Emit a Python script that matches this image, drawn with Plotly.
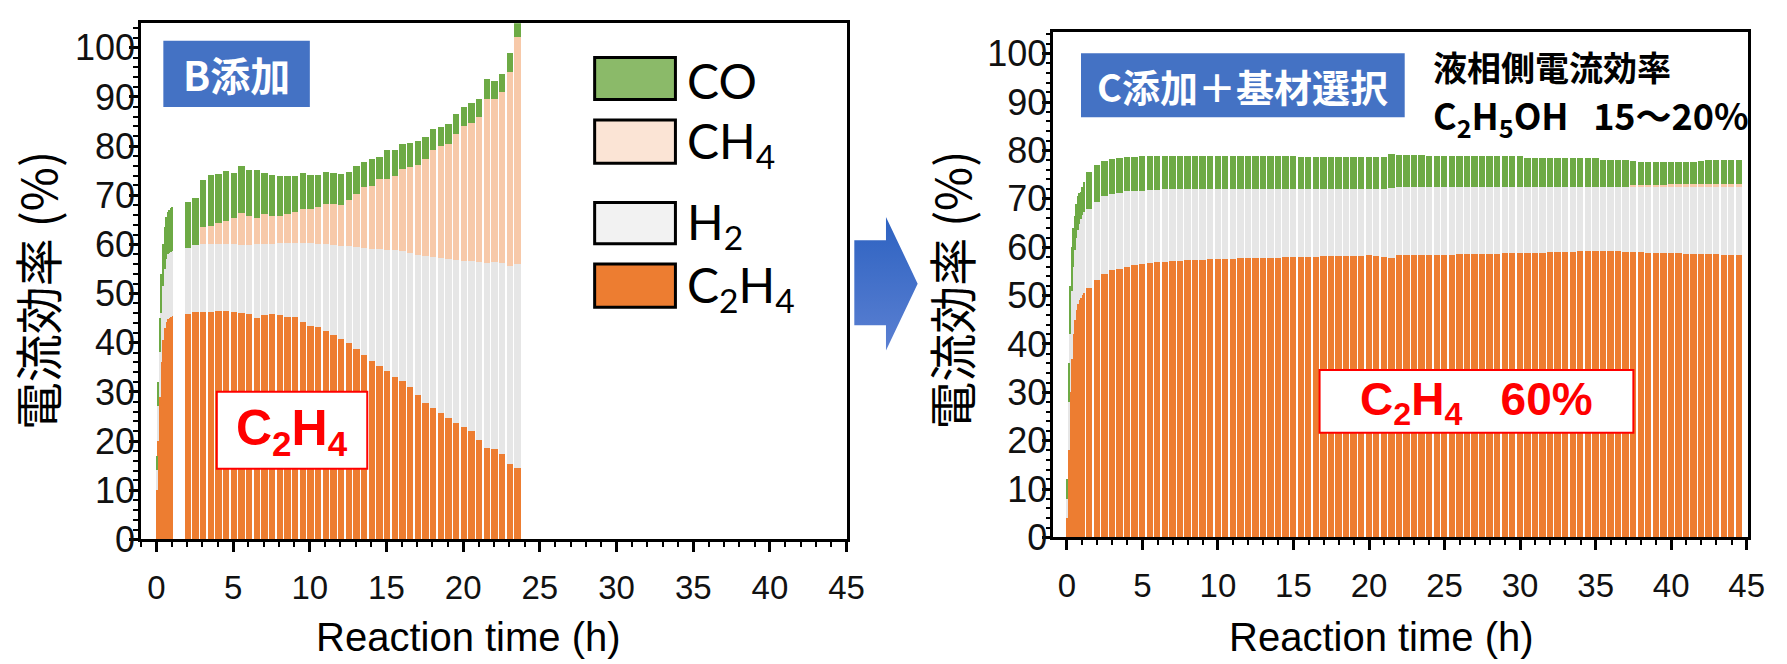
import plotly.graph_objects as go

W, H = 1787, 664

# ---------------- data: B添加 run ----------------
b_ramp_time = [0.05, 0.15, 0.25, 0.35, 0.45, 0.55, 0.65, 0.75, 0.85, 0.95, 1.05]
b_ramp_c2h4 = [10.0, 20.0, 29.0, 36.0, 40.5, 43.0, 44.2, 44.8, 45.0, 45.2, 45.3]
b_ramp_h2 = [4.0, 7.0, 9.0, 10.0, 11.0, 12.0, 12.8, 13.2, 13.3, 13.3, 13.3]
b_ramp_ch4 = [0.0, 0.0, 0.0, 0.0, 0.0, 0.0, 0.0, 0.0, 0.0, 0.0, 0.0]
b_ramp_co = [3.0, 5.0, 7.0, 8.0, 8.5, 8.5, 8.5, 8.5, 8.7, 8.8, 8.9]

b_time = [2.05, 2.55, 3.05, 3.55, 4.05, 4.55, 5.05, 5.55, 6.05, 6.55,
          7.05, 7.55, 8.05, 8.55, 9.05, 9.55, 10.05, 10.55, 11.05, 11.55,
          12.05, 12.55, 13.05, 13.55, 14.05, 14.55, 15.05, 15.55, 16.05, 16.55,
          17.05, 17.55, 18.05, 18.55, 19.05, 19.55, 20.05, 20.55, 21.05, 21.55,
          22.05, 22.55, 23.05, 23.55]
b_c2h4 = [45.8, 46.2, 46.3, 46.3, 46.4, 46.4, 46.2, 46.1, 45.8, 44.9,
          45.6, 45.8, 45.5, 45.2, 45.1, 44.1, 43.3, 43.1, 42.3, 41.5,
          40.7, 39.9, 38.7, 37.5, 36.3, 35.3, 34.2, 33.0, 32.1, 30.9,
          29.3, 27.7, 26.7, 25.7, 24.7, 23.7, 22.9, 21.9, 20.2, 18.5,
          18.3, 17.3, 15.2, 14.4]
b_h2 = [13.5, 13.6, 13.7, 13.8, 13.7, 13.7, 13.8, 13.8, 14.0, 15.1,
        14.5, 14.3, 14.7, 15.1, 15.2, 16.1, 16.9, 17.0, 17.7, 18.4,
        19.0, 19.7, 20.7, 21.8, 22.8, 23.7, 24.7, 25.8, 26.5, 27.4,
        28.6, 29.9, 30.6, 31.4, 32.2, 33.0, 33.7, 34.6, 36.1, 37.6,
        38.1, 38.8, 40.4, 41.6]
b_ch4 = [0.0, 0.0, 3.5, 3.7, 4.2, 4.6, 5.3, 6.4, 6.0, 5.3,
         6.1, 5.7, 5.5, 5.9, 6.2, 6.9, 6.9, 7.4, 8.1, 8.3,
         8.3, 9.3, 10.9, 12.3, 12.7, 14.2, 14.4, 15.1, 16.6, 17.4,
         18.2, 19.8, 21.9, 22.9, 23.4, 25.8, 27.4, 28.1, 29.5, 33.4,
         33.1, 34.9, 39.4, 46.1]
b_co = [9.3, 9.5, 9.5, 10.2, 10.0, 10.2, 9.1, 9.6, 9.2, 9.7,
        8.2, 8.2, 8.1, 7.7, 7.3, 7.3, 7.0, 6.6, 6.6, 6.3,
        6.2, 5.7, 5.6, 5.2, 5.5, 4.6, 5.8, 5.3, 5.1, 4.8,
        4.8, 4.4, 4.2, 3.8, 4.1, 4.0, 4.0, 4.2, 3.7, 4.2,
        3.8, 3.7, 3.9, 3.9]

# ---------------- data: C添加+基材選択 run ----------------
c_ramp_time = [0.05, 0.15, 0.25, 0.35, 0.45, 0.55, 0.65, 0.75, 0.85, 0.95, 1.05, 1.15]
c_ramp_c2h4 = [4.0, 18.0, 30.0, 37.0, 42.0, 45.0, 47.0, 48.2, 49.0, 49.6, 50.2, 50.6]
c_ramp_h2 = [4.0, 10.0, 12.0, 14.0, 14.0, 14.5, 15.0, 15.3, 15.8, 16.2, 16.4, 16.6]
c_ramp_ch4 = [0.0, 0.0, 0.0, 0.0, 0.0, 0.0, 0.0, 0.0, 0.0, 0.0, 0.0, 0.0]
c_ramp_co = [4.0, 8.0, 10.0, 9.0, 8.0, 7.0, 7.0, 7.0, 6.4, 5.7, 5.9, 6.3]

c_time = [1.5, 2.0, 2.5, 3.0, 3.5, 4.0, 4.5, 5.0, 5.5, 6.0,
          6.5, 7.0, 7.5, 8.0, 8.5, 9.0, 9.5, 10.0, 10.5, 11.0,
          11.5, 12.0, 12.5, 13.0, 13.5, 14.0, 14.5, 15.0, 15.5, 16.0,
          16.5, 17.0, 17.5, 18.0, 18.5, 19.0, 19.5, 20.0, 20.5, 21.0,
          21.5, 22.0, 22.5, 23.0, 23.5, 24.0, 24.5, 25.0, 25.5, 26.0,
          26.5, 27.0, 27.5, 28.0, 28.5, 29.0, 29.5, 30.0, 30.5, 31.0,
          31.5, 32.0, 32.5, 33.0, 33.5, 34.0, 34.5, 35.0, 35.5, 36.0,
          36.5, 37.0, 37.5, 38.0, 38.5, 39.0, 39.5, 40.0, 40.5, 41.0,
          41.5, 42.0, 42.5, 43.0, 43.5, 44.0, 44.5]
c_c2h4 = [51.6, 53.3, 54.5, 55.2, 55.6, 56.0, 56.3, 56.5, 56.7, 56.9,
          57.0, 57.1, 57.2, 57.3, 57.3, 57.4, 57.5, 57.5, 57.6, 57.6,
          57.7, 57.7, 57.7, 57.8, 57.8, 57.8, 57.9, 57.9, 58.0, 58.0,
          58.0, 58.1, 58.1, 58.1, 58.2, 58.2, 58.2, 58.3, 58.2, 57.9,
          57.8, 58.3, 58.4, 58.4, 58.4, 58.5, 58.5, 58.5, 58.5, 58.6,
          58.6, 58.6, 58.7, 58.7, 58.7, 58.8, 58.8, 58.8, 58.9, 58.9,
          58.9, 59.0, 59.0, 59.1, 59.1, 59.2, 59.2, 59.3, 59.3, 59.3,
          59.2, 59.1, 59.0, 59.0, 58.9, 58.9, 58.8, 58.8, 58.8, 58.7,
          58.7, 58.6, 58.6, 58.6, 58.5, 58.5, 58.5]
c_h2 = [16.3, 16.1, 16.0, 15.8, 15.7, 15.6, 15.3, 15.2, 15.1, 15.0,
        15.0, 14.9, 14.8, 14.7, 14.7, 14.6, 14.5, 14.5, 14.4, 14.4,
        14.3, 14.3, 14.3, 14.2, 14.2, 14.2, 14.1, 14.1, 14.0, 14.0,
        14.0, 13.9, 13.9, 13.9, 13.8, 13.8, 13.8, 13.7, 13.8, 14.1,
        14.5, 14.2, 14.1, 14.1, 14.1, 14.0, 14.0, 14.0, 14.0, 13.9,
        13.9, 13.9, 13.8, 13.8, 13.8, 13.7, 13.7, 13.7, 13.6, 13.6,
        13.6, 13.5, 13.5, 13.4, 13.4, 13.3, 13.3, 13.2, 13.2, 13.2,
        13.3, 13.4, 13.5, 13.5, 13.6, 13.6, 13.7, 13.7, 13.7, 13.8,
        13.8, 13.9, 13.9, 13.9, 14.0, 14.0, 14.0]
c_ch4 = [0, 0, 0, 0, 0, 0, 0, 0, 0, 0,
         0, 0, 0, 0, 0, 0, 0, 0, 0, 0,
         0, 0, 0, 0, 0, 0, 0, 0, 0, 0,
         0, 0, 0, 0, 0, 0, 0, 0, 0, 0,
         0, 0, 0, 0, 0, 0, 0, 0, 0, 0,
         0, 0, 0, 0, 0, 0, 0, 0, 0, 0,
         0, 0, 0, 0, 0, 0, 0, 0, 0, 0,
         0, 0, 0.3, 0.4, 0.4, 0.4, 0.4, 0.5, 0.5, 0.5,
         0.5, 0.5, 0.5, 0.5, 0.5, 0.5, 0.5]
c_co = [7.6, 7.6, 7.3, 7.2, 7.1, 7.0, 7.1, 7.1, 7.1, 7.0,
        6.9, 6.9, 6.9, 6.9, 6.9, 6.9, 6.9, 6.9, 6.8, 6.8,
        6.8, 6.8, 6.8, 6.8, 6.8, 6.8, 6.8, 6.8, 6.6, 6.6,
        6.6, 6.6, 6.6, 6.6, 6.6, 6.6, 6.6, 6.6, 6.6, 6.6,
        6.9, 6.6, 6.6, 6.6, 6.6, 6.3, 6.3, 6.3, 6.3, 6.3,
        6.3, 6.3, 6.3, 6.3, 6.3, 6.3, 6.3, 6.3, 5.9, 5.9,
        5.9, 5.9, 5.9, 5.9, 5.9, 5.9, 5.9, 5.9, 5.5, 5.5,
        5.5, 5.5, 5.1, 4.8, 4.7, 4.7, 4.7, 4.6, 4.6, 4.6,
        4.6, 4.8, 5.0, 5.0, 5.0, 5.0, 5.0]

# species, drawn bottom to top in each stack
species = ["C<sub>2</sub>H<sub>4</sub>", "H<sub>2</sub>", "CH<sub>4</sub>", "CO"]
bar_colors = ["#ED7D31", "#E6E6E6", "#F7C9A9", "#6DAA45"]
key_colors = ["#ED7D31", "#F2F2F2", "#FBE4D5", "#8BBA69"]

x_ticks = [0, 5, 10, 15, 20, 25, 30, 35, 40, 45]
y_ticks = [0, 10, 20, 30, 40, 50, 60, 70, 80, 90, 100]

RAMP_W, BAR_W = 0.1, 0.42


def px(x):
    return x / W


def py(y):
    return 1 - y / H


fig = go.Figure()


def add_run(ramp_t, t, ramp_series, series, xa, ya):
    x = ramp_t + t
    widths = [RAMP_W] * len(ramp_t) + [BAR_W] * len(t)
    for name, col, rs, s in zip(species, bar_colors, ramp_series, series):
        fig.add_trace(go.Bar(
            x=x, y=rs + s, width=widths, name=name,
            marker=dict(color=col, line=dict(width=0)),
            xaxis=xa, yaxis=ya, showlegend=False))


add_run(b_ramp_time, b_time,
        [b_ramp_c2h4, b_ramp_h2, b_ramp_ch4, b_ramp_co],
        [b_c2h4, b_h2, b_ch4, b_co], "x", "y")
add_run(c_ramp_time, c_time,
        [c_ramp_c2h4, c_ramp_h2, c_ramp_ch4, c_ramp_co],
        [c_c2h4, c_h2, c_ch4, c_co], "x2", "y2")

# block arrow between the panels, on a full-canvas pixel axis
arrow_x = [863, 895, 895, 927, 895, 895, 863, 863]
arrow_y = [248, 248, 224, 293, 362, 336, 336, 248]
fig.add_trace(go.Scatter(
    x=arrow_x, y=arrow_y, mode="lines", fill="toself",
    line=dict(width=0, color="rgba(0,0,0,0)"),
    fillgradient=dict(type="vertical",
                      colorscale=[[0, "#5B80D2"], [1, "#2D62C1"]]),
    xaxis="x3", yaxis="y3", showlegend=False, hoverinfo="skip"))

tick_font = dict(family="Liberation Sans, Arial, sans-serif", size=33, color="#111")
common_x = dict(
    tickmode="array", tickvals=x_ticks, ticks="outside", ticklen=10, tickwidth=2.5,
    tickcolor="black", showline=True, linewidth=2.5, linecolor="black", mirror=True,
    showgrid=False, zeroline=False, tickfont=tick_font, ticklabelstandoff=7,
    minor=dict(ticks="outside", dtick=1, tick0=0, ticklen=5, tickwidth=2, tickcolor="black"))
common_y = dict(
    tickmode="array", tickvals=y_ticks, ticks="outside", ticklen=9, tickwidth=2.5,
    tickcolor="black", showline=True, linewidth=2.5, linecolor="black", mirror=True,
    showgrid=False, zeroline=False, tickfont=dict(tick_font, size=36),
    ticklabelstandoff=-13,
    minor=dict(ticks="outside", dtick=2, tick0=0, ticklen=5, tickwidth=2, tickcolor="black"))

fig.update_layout(
    width=W, height=H, autosize=False,
    margin=dict(l=0, r=0, t=0, b=0),
    paper_bgcolor="white", plot_bgcolor="rgba(0,0,0,0)",
    barmode="stack", bargap=0,
    xaxis=dict(common_x, domain=[px(142.5), px(856)], range=[-1, 45.05], anchor="y"),
    yaxis=dict(common_y, domain=[py(557), py(24)], range=[0, 105], anchor="x"),
    xaxis2=dict(common_x, domain=[px(1064), px(1766)], range=[-0.9, 45.1], anchor="y2"),
    yaxis2=dict(common_y, domain=[py(555), py(33)], range=[0, 104.5], anchor="x2"),
    xaxis3=dict(domain=[0, 1], range=[0, W], visible=False, fixedrange=True),
    yaxis3=dict(domain=[0, 1], range=[H, 0], visible=False, fixedrange=True, anchor="x3"),
)

shapes = []
annotations = []

cjk = "Noto Sans CJK JP, sans-serif"
latin = "Liberation Sans, Arial, sans-serif"


def box(x0, y0, x1, y1, fill, line_color=None, line_width=0):
    shapes.append(dict(
        type="rect", xref="paper", yref="paper", layer="above",
        x0=px(x0), x1=px(x1), y0=py(y1), y1=py(y0), fillcolor=fill,
        line=dict(color=line_color or fill, width=line_width)))


def label(x, y, text, size, color="black", family=cjk, xanchor="center",
          yanchor="middle", angle=0):
    annotations.append(dict(
        x=px(x), y=py(y), xref="paper", yref="paper", text=text, showarrow=False,
        xanchor=xanchor, yanchor=yanchor, textangle=angle,
        font=dict(family=family, size=size, color=color)))


# axis titles
for cx in (473, 1396):
    label(cx, 633, "Reaction time (h)", 40, family=latin, yanchor="top")
for cx in (36, 959):
    label(cx, 300, "電流効率 (%)", 48, angle=-90)

# panel headers
box(165, 42, 313, 110.5, "#4472C4")
label(239, 76, "<b>B添加</b>", 40, color="white")
box(1092, 55, 1419, 121, "#4472C4")
label(1255.5, 88, "<b>C添加＋基材選択</b>", 38, color="white")

label(1446, 69, "<b>液相側電流効率</b>", 34, xanchor="left")
label(1446, 120, "<b>C<sub>2</sub>H<sub>5</sub>OH\u00a0\u00a0\u00a015～20%</b>", 36,
      xanchor="left")

# C2H4 call-outs
box(219, 404.5, 371, 484, "white", "#FF0000", 2)
label(295, 446, "<b>C<sub>2</sub>H<sub>4</sub></b>", 50, color="#FF0000", family=latin)
box(1333, 382, 1650, 447, "white", "#FF0000", 2)
label(1491.5, 416, "<b>C<sub>2</sub>H<sub>4</sub>\u00a0\u00a0\u00a060%</b>", 46,
      color="#FF0000", family=latin)

# key for the stacked species (top to bottom: CO, CH4, H2, C2H4)
key_rows = [(59.3, 102.7), (124, 168.7), (209, 251.7), (272.7, 317.3)]
for (y0, y1), name, col in zip(key_rows, species[::-1], key_colors[::-1]):
    box(600.7, y0, 682.3, y1, col, "black", 3)
    label(692, (y0 + y1) / 2 + 2, name, 48, family="Lato, Liberation Sans, sans-serif",
          xanchor="left")

fig.update_layout(shapes=shapes, annotations=annotations)
fig.write_html("out.html")
